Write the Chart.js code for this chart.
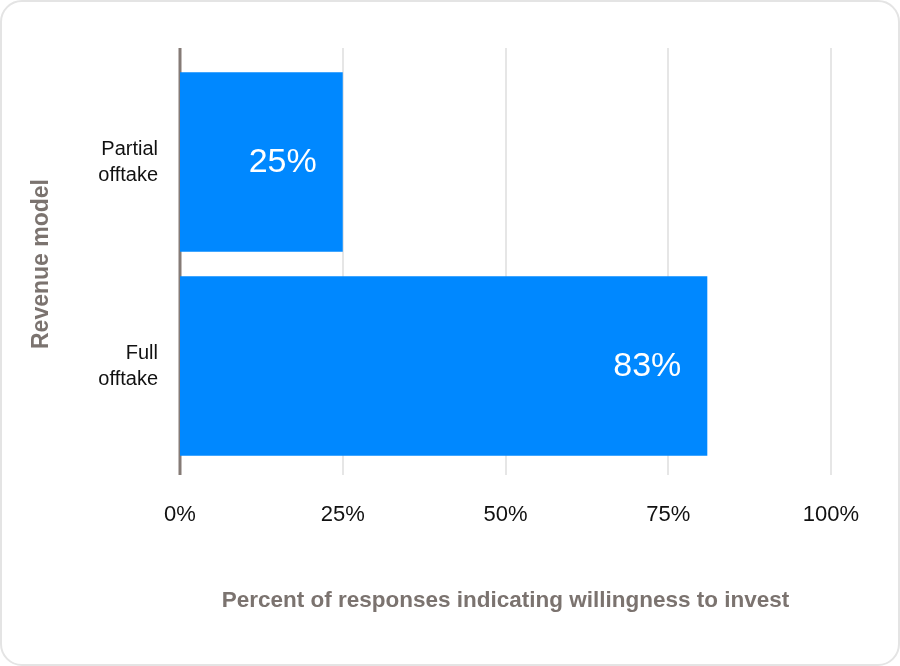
<!DOCTYPE html>
<html>
<head>
<meta charset="UTF-8">
<title>Revenue model</title>
<script src="https://cdn.jsdelivr.net/npm/chart.js"></script>
<style>
  * { margin: 0; padding: 0; box-sizing: border-box; }
  body { background: #fff; width: 900px; height: 666px; overflow: hidden; }
  .wrap { position: relative; width: 900px; height: 666px; }
  .frame {
    position: absolute; left: 0; top: 0; width: 900px; height: 666px;
    border: 2px solid #e4e4e4; border-radius: 22px; pointer-events: none;
  }
</style>
</head>
<body>
<div class="wrap">
  <canvas id="chart"></canvas>
  <div class="frame"></div>
</div>
<script>
  const categories = [['Partial', 'offtake'], ['Full', 'offtake']];
  const values = [25, 81];
  const valueLabels = ['25%', '83%'];
  const xTicks = [0, 25, 50, 75, 100];

  const FONT = "'Liberation Sans', Arial, sans-serif";
  const TITLE_GRAY = '#7b736f';

  // draw the value label inside the end of each bar
  const barLabels = {
    id: 'barLabels',
    afterDatasetsDraw(chart) {
      const ctx = chart.ctx;
      const meta = chart.getDatasetMeta(0);
      ctx.save();
      ctx.fillStyle = '#fff';
      ctx.font = '34px ' + FONT;
      ctx.textAlign = 'right';
      ctx.textBaseline = 'middle';
      meta.data.forEach((bar, i) => {
        ctx.fillText(valueLabels[i], bar.x - 26, bar.y + 1);
      });
      ctx.restore();
    }
  };

  // vertical grid lines + left axis line, a bit taller than the bar area
  const gridLines = {
    id: 'gridLines',
    beforeDatasetsDraw(chart) {
      const ctx = chart.ctx;
      const x = chart.scales.x;
      const top = chart.chartArea.top - 12;
      const bottom = chart.chartArea.bottom + 7;
      ctx.save();
      xTicks.forEach(v => {
        const px = Math.round(x.getPixelForValue(v));
        ctx.beginPath();
        ctx.moveTo(px, top);
        ctx.lineTo(px, bottom);
        if (v === 0) {
          ctx.strokeStyle = '#857b76';
          ctx.lineWidth = 3;
        } else {
          ctx.strokeStyle = '#e6e6e6';
          ctx.lineWidth = 2;
        }
        ctx.stroke();
      });
      ctx.restore();
    }
  };

  new Chart(document.getElementById('chart'), {
    type: 'bar',
    data: {
      labels: categories,
      datasets: [{
        data: values,
        backgroundColor: '#0088ff',
        borderWidth: 0,
        categoryPercentage: 1,
        barPercentage: 0.88
      }]
    },
    options: {
      indexAxis: 'y',
      responsive: true,
      maintainAspectRatio: false,
      animation: false,
      layout: { padding: { left: 28, right: 69, top: 60, bottom: 52 } },
      plugins: { legend: { display: false }, tooltip: { enabled: false } },
      scales: {
        x: {
          min: 0, max: 100,
          afterBuildTicks(scale) { scale.ticks = xTicks.map(v => ({ value: v })); },
          afterFit(scale) { scale.height = 146; },
          grid: { display: false },
          border: { display: false },
          ticks: {
            color: '#111',
            font: { family: FONT, size: 22 },
            padding: 26,
            callback: v => v + '%'
          },
          title: {
            display: true,
            text: 'Percent of responses indicating willingness to invest',
            color: TITLE_GRAY,
            font: { family: FONT, size: 22.5, weight: 'bold' },
            padding: { top: 0, bottom: 0 }
          }
        },
        y: {
          afterFit(scale) { scale.width = 152; },
          grid: { display: false },
          border: { display: false },
          ticks: {
            color: '#111',
            font: { family: FONT, size: 20, lineHeight: 1.3 },
            padding: 14
          },
          title: {
            display: true,
            text: 'Revenue model',
            color: TITLE_GRAY,
            font: { family: FONT, size: 23, weight: 'bold' },
            padding: { top: 0, bottom: 0 }
          }
        }
      }
    },
    plugins: [gridLines, barLabels]
  });
</script>
</body>
</html>
